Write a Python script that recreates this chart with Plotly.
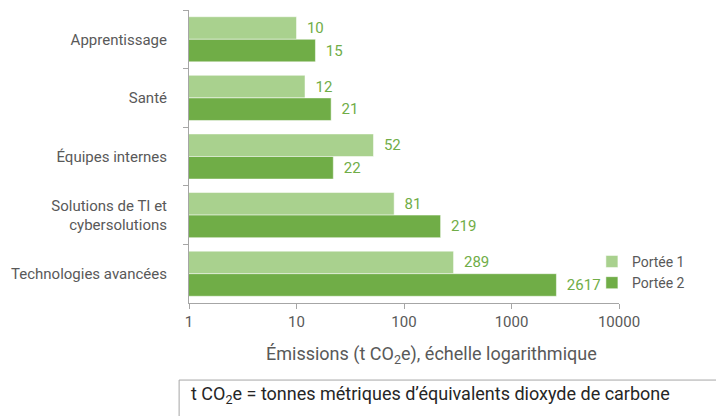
import plotly.graph_objects as go

categories = ["Apprentissage", "Santé", "Équipes internes",
              "Solutions de TI et<br>cybersolutions", "Technologies avancées"]
portee1 = [10, 12, 52, 81, 289]
portee2 = [15, 21, 22, 219, 2617]
tick_vals = [1, 10, 100, 1000, 10000]
tick_text = ["1", "10", "100", "1000", "10000"]

light = "#A9D18E"
dark = "#70AD47"
txtgrey = "#595959"
axgrey = "#A6A6A6"
font = "Roboto"

fig = go.Figure()
for name, vals, col in [("Portée 1", portee1, light), ("Portée 2", portee2, dark)]:
    fig.add_trace(go.Bar(y=categories, x=vals, orientation="h", name=name,
                         marker=dict(color=col, line=dict(color="white", width=0.5)),
                         text=["\u00a0\u00a0" + str(v) for v in vals], textposition="outside",
                         textfont=dict(color=dark, size=15, family=font), cliponaxis=False))

fig.update_layout(
    width=716, height=408,
    margin=dict(l=181, r=105, t=2, b=113),
    paper_bgcolor="white", plot_bgcolor="white",
    barmode="group", bargap=0.23, bargroupgap=0.0,
    font=dict(family=font, size=14, color=txtgrey),
    showlegend=True,
    legend=dict(x=0.937, y=0.195, xanchor="left", yanchor="top",
                font=dict(size=14, color=txtgrey), itemwidth=30,
                tracegroupgap=0, bgcolor="rgba(0,0,0,0)"),
    xaxis=dict(type="log", range=[0, 4], tickvals=tick_vals, ticktext=tick_text,
               showgrid=False, zeroline=False, showline=True, linecolor=axgrey,
               ticks="outside", ticklen=5, tickcolor=axgrey, automargin=False,
               tickfont=dict(size=15, color=txtgrey)),
    yaxis=dict(autorange="reversed", showgrid=False, showline=True, linecolor=axgrey,
               ticks="outside", ticklen=5, tickcolor=axgrey, tickson="boundaries",
               ticklabelstandoff=18, automargin=False,
               tickfont=dict(size=15, color=txtgrey)),
)

fig.add_annotation(text="Émissions (t CO<sub>2</sub>e), échelle logarithmique",
                   xref="paper", yref="paper", x=0.563, y=-0.177,
                   showarrow=False, font=dict(size=18, color=txtgrey, family=font),
                   xanchor="center", yanchor="middle")

fig.add_shape(type="rect", xref="paper", yref="paper",
              x0=-0.023, x1=1.237, y0=-0.42, y1=-0.263,
              line=dict(color=axgrey, width=1), fillcolor="white")
fig.add_annotation(text="t CO<sub>2</sub>e = tonnes métriques d’équivalents dioxyde de carbone",
                   xref="paper", yref="paper", x=0.0, y=-0.314,
                   showarrow=False, font=dict(size=18, color="#262626", family=font),
                   xanchor="left", yanchor="middle")

fig.write_html("out.html")
